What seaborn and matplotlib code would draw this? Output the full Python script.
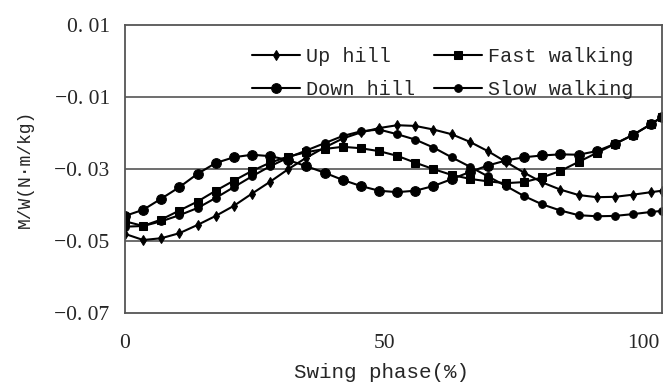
import numpy as np
import pandas as pd
import matplotlib
matplotlib.use("Agg")
import matplotlib.pyplot as plt
import seaborn as sns

phase = [0, 3.5, 7, 10.5, 14, 17.5, 21, 24.5, 28, 31.5, 35, 38.5, 42, 45.5, 49,
         52.5, 56, 59.5, 63, 66.5, 70, 73.5, 77, 80.5, 84, 87.5, 91, 94.5, 98,
         101.5, 103.6]

up_hill = [-0.0480, -0.0497, -0.0492, -0.0478, -0.0455, -0.0430, -0.0402, -0.0368,
           -0.0335, -0.0300, -0.0268, -0.0240, -0.0215, -0.0198, -0.0186, -0.0178,
           -0.0180, -0.0190, -0.0203, -0.0224, -0.0250, -0.0280, -0.0310, -0.0337,
           -0.0357, -0.0372, -0.0378, -0.0377, -0.0371, -0.0364, -0.0360]

down_hill = [-0.0430, -0.0413, -0.0382, -0.0350, -0.0313, -0.0283, -0.0267, -0.0260,
             -0.0264, -0.0275, -0.0292, -0.0310, -0.0330, -0.0347, -0.0360, -0.0364,
             -0.0360, -0.0347, -0.0328, -0.0308, -0.0290, -0.0276, -0.0267, -0.0262,
             -0.0259, -0.0260, -0.0250, -0.0230, -0.0205, -0.0175, -0.0155]

fast_walking = [-0.0445, -0.0458, -0.0440, -0.0415, -0.0390, -0.0360, -0.0332, -0.0305,
                -0.0282, -0.0265, -0.0253, -0.0244, -0.0238, -0.0242, -0.0250, -0.0263,
                -0.0282, -0.0300, -0.0316, -0.0327, -0.0334, -0.0339, -0.0336, -0.0323,
                -0.0305, -0.0280, -0.0255, -0.0230, -0.0205, -0.0175, -0.0155]

slow_walking = [-0.0460, -0.0458, -0.0445, -0.0428, -0.0408, -0.0380, -0.0350, -0.0320,
                -0.0292, -0.0268, -0.0248, -0.0228, -0.0208, -0.0195, -0.0190, -0.0203,
                -0.0218, -0.0240, -0.0267, -0.0293, -0.0320, -0.0347, -0.0375, -0.0398,
                -0.0415, -0.0428, -0.0431, -0.0430, -0.0425, -0.0419, -0.0416]

series_names = ["Up hill", "Down hill", "Fast walking", "Slow walking"]
series_vals = [up_hill, down_hill, fast_walking, slow_walking]
series_markers = ["d", "o", "s", "o"]
series_msize = [5, 7, 6, 5.5]

yticks = [-0.07, -0.05, -0.03, -0.01, 0.01]
ytick_labels = ["\u22120. 07", "\u22120. 05", "\u22120. 03", "\u22120. 01", "0. 01"]
xticks = [0, 50, 100]
xtick_labels = ["0", "50", "100"]

sns.set_theme(style="white")
plt.rcParams["font.family"] = ["Liberation Serif", "DejaVu Serif"]
mono = ["Liberation Mono", "DejaVu Sans Mono"]

fig = plt.figure(figsize=(6.65, 3.87), dpi=100)
ax = fig.add_axes([0.188, 0.191, 0.8075, 0.744])

for name, vals, mk, ms in zip(series_names, series_vals, series_markers, series_msize):
    df = pd.DataFrame({"phase": phase, "val": vals})
    sns.lineplot(data=df, x="phase", y="val", ax=ax, color="black", linewidth=1.5,
                 marker=mk, markersize=ms, markeredgecolor="black",
                 markerfacecolor="black", label=name)

ax.set_xlim(0, 103.6)
ax.set_ylim(-0.07, 0.01)
ax.set_yticks(yticks)
ax.set_yticklabels(ytick_labels, fontsize=15.5)
ax.set_xticks(xticks)
ax.set_xticklabels(xtick_labels, fontsize=15.5)
ax.tick_params(direction="in", length=4, color="#444444", width=1)
ax.tick_params(axis="y", pad=11)
ax.tick_params(axis="x", pad=15)
for y in [-0.05, -0.03, -0.01]:
    ax.axhline(y, color="#555555", linewidth=1.2, zorder=0)
for sp in ax.spines.values():
    sp.set_visible(True)
    sp.set_color("#555555")
    sp.set_linewidth(1.3)

ax.set_xlabel("Swing phase(%)", fontsize=15, family=mono, va="center")
ax.xaxis.set_label_coords(0.477, -0.205)
ax.set_ylabel("M/W(N\u00b7m/kg)", fontsize=13, family=mono, va="center")
ax.yaxis.set_label_coords(-0.186, 0.5)

leg = ax.legend(ncol=2, frameon=False, loc="upper left",
                bbox_to_anchor=(0.2365, 0.925), handlelength=2.4, handletextpad=0.3,
                columnspacing=0.9, labelspacing=0.7, borderaxespad=0, borderpad=0,
                prop={"family": mono, "size": 14.5})

fig.savefig("out.png", dpi=100)
